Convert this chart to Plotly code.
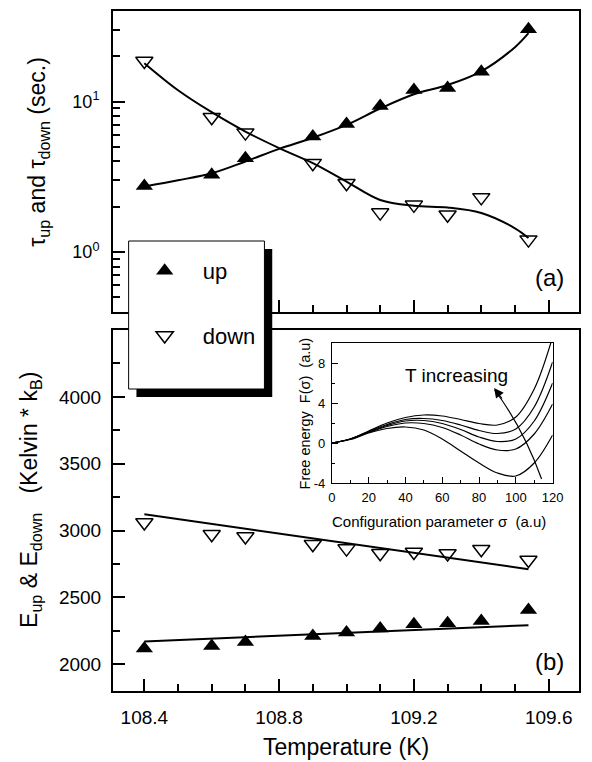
import plotly.graph_objects as go

# ---------------- data ----------------
T = [108.4, 108.6, 108.7, 108.9, 109.0, 109.1, 109.2, 109.3, 109.4, 109.54]
tau_up = [2.75, 3.26, 4.21, 5.86, 7.11, 9.36, 11.96, 12.3, 15.8, 30.3]
tau_down = [18.6, 7.88, 6.22, 3.90, 2.87, 1.83, 2.06, 1.77, 2.31, 1.21]

T_fit = [108.4, 108.5, 108.6, 108.7, 108.8, 108.9, 109.0, 109.1, 109.2, 109.3, 109.4, 109.5, 109.54]
tau_up_fit = [2.73, 3.0, 3.34, 4.0, 4.85, 5.75, 7.0, 9.0, 11.2, 12.9, 15.9, 23.0, 28.5]
tau_down_fit = [18.0, 11.9, 8.5, 6.32, 4.91, 3.90, 2.94, 2.22, 2.03, 1.98, 1.82, 1.44, 1.24]

E_up = [2117, 2137, 2167, 2212, 2237, 2267, 2299, 2307, 2324, 2406]
E_down = [3060, 2972, 2955, 2898, 2865, 2830, 2840, 2828, 2860, 2780]
T_lin = [108.4, 109.54]
E_up_fit = [2170, 2292]
E_down_fit = [3122, 2711]

sigma = [0, 10, 20, 30, 40, 50, 60, 70, 80, 90, 100, 110, 120]
F1 = [0, 0.4, 1.2, 2.0, 2.55, 2.8, 2.7, 2.35, 1.95, 1.8, 2.6, 5.4, 10.6]
F2 = [0, 0.4, 1.15, 1.85, 2.35, 2.45, 2.25, 1.8, 1.25, 0.95, 1.4, 3.6, 8.1]
F3 = [0, 0.4, 1.1, 1.75, 2.2, 2.25, 1.95, 1.35, 0.6, 0.15, 0.4, 2.2, 6.0]
F4 = [0, 0.4, 1.05, 1.65, 2.0, 1.95, 1.55, 0.8, -0.1, -0.7, -0.6, 0.9, 3.9]
F5 = [0, 0.35, 1.0, 1.45, 1.6, 1.3, 0.4, -0.8, -2.0, -3.0, -3.3, -2.0, 0.8]

x_major = [108.4, 108.8, 109.2, 109.6]
top_tickvals = [1, 10]
top_ticktext = ["10<sup>0</sup>", "10<sup>1</sup>"]
top_minor = [0.4, 0.5, 0.6, 0.7, 0.8, 0.9, 2, 3, 4, 5, 6, 7, 8, 9, 20, 30, 40]
bot_tickvals = [2000, 2500, 3000, 3500, 4000]
inset_yvals = [-4, 0, 4, 8]
inset_ytext = ["-4", "0", "4", "8"]

FONT = "Liberation Sans, Arial, sans-serif"
W, H = 592, 762
ML, MR, MT, MB = 113, 2, 11, 71
PW, PH = W - ML - MR, H - MT - MB


def px(x):
    return (x - ML) / PW


def py(y):
    return (H - MB - y) / PH


fig = go.Figure()

# top panel (x2, y2)
fig.add_trace(go.Scatter(x=T_fit, y=tau_up_fit, mode="lines", line=dict(color="black", width=2, shape="spline"),
                         xaxis="x2", yaxis="y2", showlegend=False))
fig.add_trace(go.Scatter(x=T_fit, y=tau_down_fit, mode="lines", line=dict(color="black", width=2, shape="spline"),
                         xaxis="x2", yaxis="y2", showlegend=False))
fig.add_trace(go.Scatter(x=T, y=tau_up, mode="markers", name="up", legendgroup="a",
                         marker=dict(symbol="triangle-up", size=15, color="black"),
                         xaxis="x2", yaxis="y2"))
fig.add_trace(go.Scatter(x=T, y=tau_down, mode="markers", name="down", legendgroup="b",
                         marker=dict(symbol="triangle-down-open", size=15, color="black", line=dict(width=1.5)),
                         xaxis="x2", yaxis="y2"))

# bottom panel
fig.add_trace(go.Scatter(x=T_lin, y=E_up_fit, mode="lines", line=dict(color="black", width=2), showlegend=False))
fig.add_trace(go.Scatter(x=T_lin, y=E_down_fit, mode="lines", line=dict(color="black", width=2), showlegend=False))
fig.add_trace(go.Scatter(x=T, y=E_up, mode="markers", showlegend=False,
                         marker=dict(symbol="triangle-up", size=15, color="black")))
fig.add_trace(go.Scatter(x=T, y=E_down, mode="markers", showlegend=False,
                         marker=dict(symbol="triangle-down-open", size=15, color="black", line=dict(width=1.5))))

# inset
for Fc in [F1, F2, F3, F4, F5]:
    fig.add_trace(go.Scatter(x=sigma, y=Fc, mode="lines", line=dict(color="black", width=1.2, shape="spline"),
                             xaxis="x3", yaxis="y3", showlegend=False, cliponaxis=True))

axis_common = dict(showline=True, linecolor="black", linewidth=2, mirror=True, ticks="inside",
                   tickcolor="black", tickwidth=1.5, showgrid=False, zeroline=False)

top_dom = [py(312), 1.0]
bot_dom = [0.0, py(330)]

fig.update_layout(
    width=W, height=H,
    margin=dict(l=ML, r=MR, t=MT, b=MB),
    paper_bgcolor="white", plot_bgcolor="white",
    font=dict(family=FONT, color="black", size=19),
    xaxis=dict(**axis_common, domain=[0, 1], range=[108.307, 109.69], anchor="y",
               tickmode="array", tickvals=x_major, ticktext=[f"{v:.1f}" for v in x_major], ticklen=12,
               tickfont=dict(size=19), ticklabelstandoff=8,
               minor=dict(tickmode="linear", tick0=108.4, dtick=0.1, ticks="inside", ticklen=7,
                          tickcolor="black", tickwidth=1.5)),
    yaxis=dict(**axis_common, domain=bot_dom, range=[1800, 4500], anchor="x",
               tickmode="array", tickvals=bot_tickvals, ticklen=12, tickfont=dict(size=19),
               ticklabelstandoff=6,
               minor=dict(tickmode="linear", tick0=0, dtick=250, ticks="inside", ticklen=7,
                          tickcolor="black", tickwidth=1.5)),
    xaxis2=dict(**axis_common, domain=[0, 1], range=[108.307, 109.69], anchor="y2", matches="x",
                tickmode="array", tickvals=x_major, showticklabels=False, ticklen=12,
                minor=dict(tickmode="linear", tick0=108.4, dtick=0.1, ticks="inside", ticklen=7,
                           tickcolor="black", tickwidth=1.5)),
    yaxis2=dict(**axis_common, domain=top_dom, type="log", range=[-0.398, 1.602], anchor="x2",
                tickmode="array", tickvals=top_tickvals, ticktext=top_ticktext, ticklen=12,
                tickfont=dict(size=18), ticklabelstandoff=8,
                minor=dict(tickmode="array", tickvals=top_minor, ticks="inside", ticklen=7,
                           tickcolor="black", tickwidth=1.5)),
    xaxis3=dict(showline=True, linecolor="black", linewidth=1, mirror=True, ticks="inside",
                tickcolor="black", tickwidth=1, showgrid=False, zeroline=False,
                domain=[px(337), px(563)], range=[0, 120], anchor="y3",
                tickmode="linear", tick0=0, dtick=20, ticklen=6, tickfont=dict(size=13),
                ticklabelstandoff=2,
                minor=dict(tickmode="linear", tick0=0, dtick=10, ticks="inside", ticklen=3,
                           tickcolor="black", tickwidth=1)),
    yaxis3=dict(showline=True, linecolor="black", linewidth=1, mirror=True, ticks="inside",
                tickcolor="black", tickwidth=1, showgrid=False, zeroline=False,
                domain=[py(483), py(343)], range=[-4, 10], anchor="x3",
                tickmode="array", tickvals=inset_yvals, ticktext=inset_ytext, ticklen=6,
                tickfont=dict(size=13), ticklabelstandoff=3,
                minor=dict(tickmode="array", tickvals=[-2, 2, 6], ticks="inside", ticklen=3,
                           tickcolor="black", tickwidth=1)),
    legend=dict(x=px(127), y=py(250), xanchor="left", yanchor="top",
                bgcolor="rgba(0,0,0,0)", borderwidth=0, font=dict(size=22),
                tracegroupgap=33, itemwidth=66, traceorder="grouped"),
    shapes=[
        dict(type="rect", xref="paper", yref="paper", x0=px(137), x1=px(276), y0=py(397), y1=py(249),
             fillcolor="black", line=dict(width=0), layer="above"),
        dict(type="rect", xref="paper", yref="paper", x0=px(129), x1=px(268), y0=py(389), y1=py(241),
             fillcolor="white", line=dict(color="black", width=1), layer="above"),
        dict(type="path", xref="x3", yref="y3", path="M 114,-3.6 Q 104,1.5 88.5,5.3",
             line=dict(color="black", width=1.2), layer="above"),
    ],
    annotations=[
        dict(x=88.2, y=5.5, xref="x3", yref="y3", ax=9, ay=12, axref="pixel", ayref="pixel",
             showarrow=True, arrowhead=2, arrowsize=1.6, arrowwidth=1.2, arrowcolor="black", text=""),
        dict(x=px(465), y=py(375), xref="paper", yref="paper", text="T increasing", showarrow=False,
             font=dict(size=19), xanchor="center", yanchor="middle"),
        dict(x=px(310), y=py(413), xref="paper", yref="paper",
             text="Free energy\u00a0\u00a0F(σ)\u00a0\u00a0(a.u)", textangle=-90, showarrow=False,
             font=dict(size=14.5), xanchor="center", yanchor="middle"),
        dict(x=px(447), y=py(521), xref="paper", yref="paper",
             text="Configuration parameter σ\u00a0\u00a0(a.u)", showarrow=False,
             font=dict(size=15), xanchor="center", yanchor="middle"),
        dict(x=px(36), y=py(152), xref="paper", yref="paper",
             text="τ<sub>up</sub> and τ<sub>down</sub> (sec.)", textangle=-90, showarrow=False,
             font=dict(size=23), xanchor="center", yanchor="middle"),
        dict(x=px(28), y=py(500), xref="paper", yref="paper",
             text="E<sub>up</sub> & E<sub>down</sub>\u00a0\u00a0\u00a0(Kelvin * k<sub>B</sub>)", textangle=-90,
             showarrow=False, font=dict(size=23), xanchor="center", yanchor="middle"),
        dict(x=0.5, y=py(747), xref="paper", yref="paper", text="Temperature (K)", showarrow=False,
             font=dict(size=23), xanchor="center", yanchor="middle"),
        dict(x=px(577), y=py(277), xref="paper", yref="paper", text="(a)", showarrow=False,
             font=dict(size=24), xanchor="right", yanchor="middle"),
        dict(x=px(577), y=py(661), xref="paper", yref="paper", text="(b)", showarrow=False,
             font=dict(size=24), xanchor="right", yanchor="middle"),
    ],
)

fig.write_html("out.html")
